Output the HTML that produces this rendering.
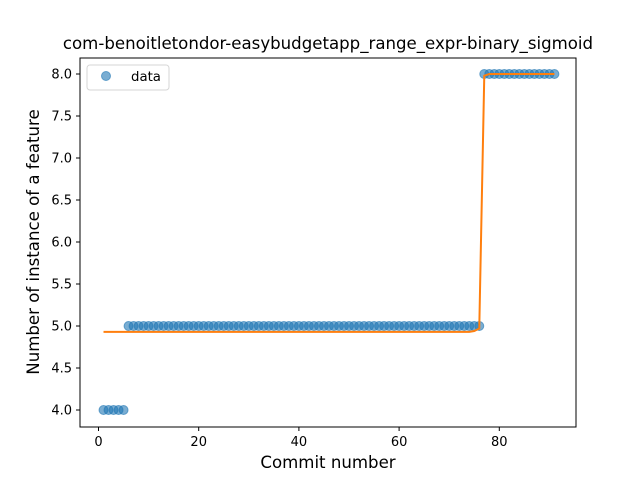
<!DOCTYPE html>
<html><head><meta charset="utf-8"><style>
body{margin:0;background:#fff;font-family:"Liberation Sans","DejaVu Sans",sans-serif}
</style></head><body>
<svg id="chart" width="640" height="480" xmlns="http://www.w3.org/2000/svg" font-family="DejaVu Sans, Liberation Sans, sans-serif">
<rect width="640" height="480" fill="#fff"/>
<text x="328" y="49" text-anchor="middle" font-size="16.6">com-benoitletondor-easybudgetapp_range_expr-binary_sigmoid</text>
<g id="plot"></g>
<rect x="80" y="58" width="496" height="369" fill="none" stroke="#000" stroke-width="1"/>
<text x="328" y="468" text-anchor="middle" font-size="16.6">Commit number</text>
<text transform="translate(39,242) rotate(-90)" text-anchor="middle" font-size="16.6">Number of instance of a feature</text>
<g>
<rect x="87" y="65" width="82" height="25" rx="3" fill="#fff" stroke="#ccc" opacity="0.8"/>
<circle cx="106" cy="76" r="4.5" fill="#1f77b4" fill-opacity="0.6" stroke="#1f77b4" stroke-opacity="0.6"/>
<text x="131" y="81" font-size="13.3">data</text>
</g>
</svg>
<script>
const xTicks=[0,20,40,60,80];
const yTicks=[4.0,4.5,5.0,5.5,6.0,6.5,7.0,7.5,8.0];
const xs=[];for(let i=1;i<=91;i++)xs.push(i);
const dataVals=[4,4,4,4,4].concat(Array(71).fill(5)).concat(Array(15).fill(8));
const fitVals=Array(74).fill(4.93).concat([4.94,4.97,7.98]).concat(Array(14).fill(8.0));
const X=v=>98.5+(v)*5.01;
const Y=v=>410-(v-4)*84;
const ns="http://www.w3.org/2000/svg";
const svg=document.getElementById('chart');
const plot=document.getElementById('plot');
function mk(t,a,p){const e=document.createElementNS(ns,t);for(const k in a)e.setAttribute(k,a[k]);(p||svg).appendChild(e);return e;}
xTicks.forEach(t=>{
 const l=mk('line',{x1:X(t),x2:X(t),y1:427,y2:431,stroke:'#000'});
 
 
 const tx=mk('text',{x:X(t),y:446,'text-anchor':'middle','font-size':13});tx.textContent=t;
 
 
});
yTicks.forEach(t=>{
 const l=mk('line',{x1:76,x2:80,y1:Y(t),y2:Y(t),stroke:'#000'});
 
 
 const tx=mk('text',{x:72,y:Y(t)+4.5,'text-anchor':'end','font-size':13});tx.textContent=t.toFixed(1);
 
 
});
xs.forEach((x,i)=>{
 const c=mk('circle',{cx:X(x),cy:Y(dataVals[i]),r:4.5,fill:'#1f77b4','fill-opacity':0.6,stroke:'#1f77b4','stroke-opacity':0.6,'stroke-width':1},plot);
 
 
});
const pl=mk('polyline',{points:xs.map((x,i)=>X(x)+','+Y(fitVals[i])).join(' '),fill:'none',stroke:'#ff7f0e','stroke-width':2},plot);


</script>
</body></html>
